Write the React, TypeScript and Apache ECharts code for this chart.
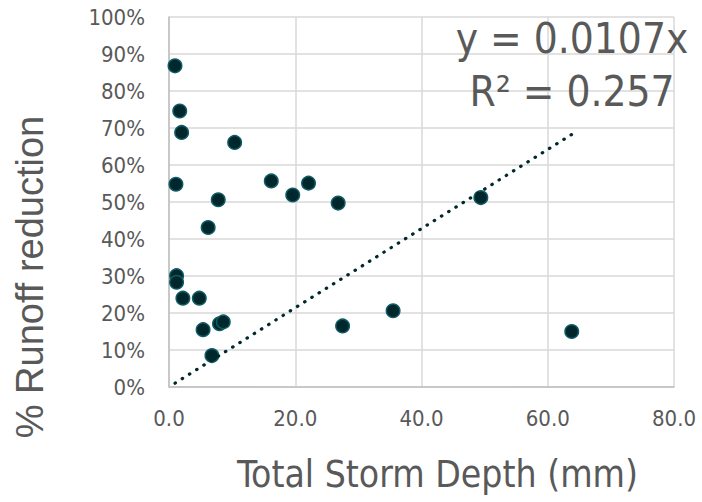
import React, { useEffect, useRef } from "react";
import * as echarts from "echarts";

// Total storm depth (mm)
const stormDepth = [0.95, 1.7, 2.0, 10.4, 1.1, 16.2, 22.1, 7.8, 19.6, 26.8, 6.2, 1.2, 1.2, 2.2, 4.8, 5.4, 8.0, 8.6, 6.8, 27.5, 35.5, 49.4, 63.8];
// Runoff reduction (fraction)
const runoffReduction = [0.868, 0.746, 0.688, 0.661, 0.548, 0.557, 0.551, 0.506, 0.519, 0.497, 0.431, 0.301, 0.283, 0.24, 0.24, 0.155, 0.171, 0.176, 0.085, 0.165, 0.206, 0.512, 0.15];

const trendSlope = 0.0107;
const rSquared = 0.257;

const xTicks = [0, 20, 40, 60, 80];
const yTicks = [0, 0.1, 0.2, 0.3, 0.4, 0.5, 0.6, 0.7, 0.8, 0.9, 1.0];

const TEXT = "#595959";
const TICK_FONT = "'DejaVu Sans Condensed', 'DejaVu Sans', sans-serif";

export default function App() {
  const ref = useRef<HTMLDivElement>(null);

  useEffect(() => {
    document.body.style.margin = "0";
    if (!ref.current) return;
    const chart = echarts.init(ref.current, null, { renderer: "svg" });

    const points = stormDepth.map((x, i) => [x, runoffReduction[i]]);
    const xMin = Math.min(...stormDepth);
    const xMax = Math.max(...stormDepth);
    const trend = [
      [xMin, trendSlope * xMin],
      [xMax, trendSlope * xMax],
    ];

    chart.setOption({
      animation: false,
      backgroundColor: "#ffffff",
      grid: { left: 169, top: 17, right: 28, bottom: 115, containLabel: false },
      xAxis: {
        type: "value",
        min: xTicks[0],
        max: xTicks[xTicks.length - 1],
        interval: 20,
        name: "Total Storm Depth (mm)",
        nameLocation: "middle",
        nameGap: 69,
        nameTextStyle: {
          fontFamily: TICK_FONT,
          fontSize: 37,
          color: TEXT,
          padding: [0, 0, 0, 32],
        },
        axisLine: { show: true, lineStyle: { color: "#bfbfbf", width: 1.5 } },
        axisTick: { show: false },
        splitLine: { show: true, lineStyle: { color: "#d9d9d9", width: 1.5 } },
        axisLabel: {
          fontFamily: TICK_FONT,
          fontSize: 22,
          color: TEXT,
          margin: 20,
          formatter: (v: number) => v.toFixed(1),
        },
      },
      yAxis: {
        type: "value",
        min: yTicks[0],
        max: yTicks[yTicks.length - 1],
        interval: 0.1,
        name: "% Runoff reduction",
        nameLocation: "middle",
        nameGap: 120,
        nameTextStyle: {
          fontFamily: "'Liberation Sans', Arial, sans-serif",
          fontSize: 38,
          color: TEXT,
          padding: [0, 150, 0, 0],
        },
        axisLine: { show: true, lineStyle: { color: "#bfbfbf", width: 1.5 } },
        axisTick: { show: false },
        splitLine: { show: true, lineStyle: { color: "#d9d9d9", width: 1.5 } },
        axisLabel: {
          fontFamily: TICK_FONT,
          fontSize: 22,
          color: TEXT,
          margin: 24,
          formatter: (v: number) => Math.round(v * 100) + "%",
        },
      },
      series: [
        {
          type: "scatter",
          data: points,
          symbol: "circle",
          symbolSize: 13.5,
          itemStyle: { color: "#00282c", borderColor: "#0f5b66", borderWidth: 1.5, opacity: 1 },
          z: 2,
        },
        {
          type: "line",
          data: trend,
          showSymbol: false,
          symbol: "none",
          lineStyle: { color: "#00282c", width: 3.2, type: [0.5, 8], cap: "round" },
          z: 3,
        },
      ],
      graphic: [
        {
          type: "text",
          x: 572,
          y: 17,
          z: 10,
          style: {
            text: `y = ${trendSlope}x`,
            font: `42px ${TICK_FONT}`,
            fill: TEXT,
            align: "center",
            verticalAlign: "top",
          },
        },
        {
          type: "text",
          x: 572,
          y: 70,
          z: 10,
          style: {
            text: `R² = ${rSquared}`,
            font: `42px ${TICK_FONT}`,
            fill: TEXT,
            align: "center",
            verticalAlign: "top",
          },
        },
      ],
    });

    return () => chart.dispose();
  }, []);

  return <div ref={ref} style={{ width: 702, height: 502 }} />;
}
